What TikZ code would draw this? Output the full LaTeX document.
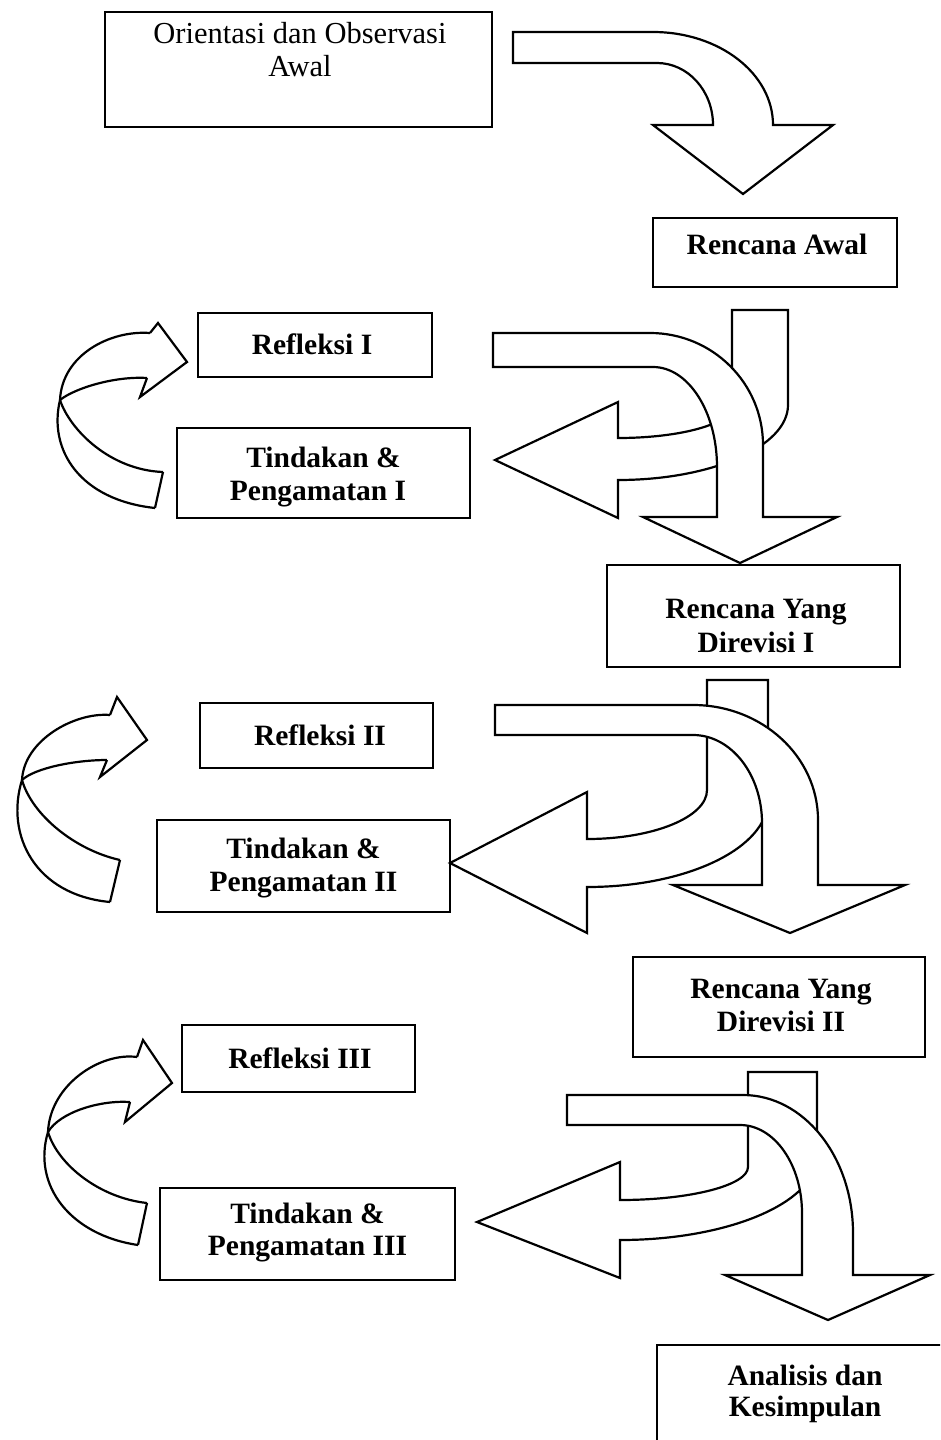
\documentclass[tikz,border=0pt]{standalone}
\usepackage{fontspec}
\setmainfont{Liberation Serif}
\begin{document}
\begin{tikzpicture}[x=1pt,y=-1pt,
  box/.style={draw=black,line width=2pt,fill=white,inner sep=0pt},
  shp/.style={draw=black,line width=2.2pt,fill=white,line join=miter},
  edge/.style={draw=black,line width=2.2pt},
  txt/.style={inner sep=0pt,anchor=base,font=\bfseries\fontsize{29.5}{33}\selectfont},
  txtr/.style={inner sep=0pt,anchor=base,font=\fontsize{30.5}{33}\selectfont}]
\useasboundingbox (0,0) rectangle (940,1440);
\clip (0,0) rectangle (940,1440);
\fill[white] (0,0) rectangle (940,1440);

% ---------- boxes ----------
\node[box,minimum width=387pt,minimum height=115pt] (b1) at (298.5,69.5) {};
\node[txtr] (b1a) at (300,43) {Orientasi dan Observasi};
\node[txtr] (b1b) at (300,76) {Awal};

\node[box,minimum width=244pt,minimum height=69pt] (rawal) at (775,252.5) {};
\node[txt] (rawalt) at (777,254) {Rencana Awal};

% ---------- section 1 arrow ----------
\draw[shp] (513,32) -- (653,32) .. controls (719.3,32) and (773,73.6) .. (773,125)
  -- (833,125) -- (743,194) -- (653,125) -- (713,125)
  .. controls (713,90.8) and (687.9,63) .. (657,63) -- (513,63) -- cycle;

% ---------- section 2 ----------
\node[box,minimum width=234pt,minimum height=64pt] (ref1) at (315,345) {};
\node[txt] (ref1t) at (312,354) {Refleksi I};
\node[box,minimum width=293pt,minimum height=90pt] (tin1) at (323.5,473) {};
\node[txt] (tin1a) at (323.5,467) {Tindakan \&};
\node[txt] (tin1b) at (318,500) {Pengamatan I};

\draw[shp] (732,310) -- (788,310) -- (788,405) .. controls (788,446.4) and (711.9,480) .. (618,480)
  -- (618,518) -- (495,460) -- (618,402) -- (618,438)
  .. controls (681,438) and (732,423.7) .. (732,406) -- cycle;
\draw[shp] (493,333) -- (650,333) .. controls (712.4,333) and (763,383.1) .. (763,445)
  -- (763,517) -- (837,517) -- (740,563) -- (643,517) -- (717,517) -- (717,467)
  .. controls (717,411.8) and (688.3,367) .. (653,367) -- (493,367) -- cycle;

% loop 1
\draw[edge] (150,333) .. controls (110,330) and (62,355) .. (60,400);
\draw[edge] (147,378) .. controls (115,376) and (75,388) .. (60,400);
\draw[edge] (60,400) .. controls (48,450) and (80,500) .. (155,508);
\draw[edge] (60,400) .. controls (70,430) and (110,470) .. (163,472);
\draw[edge,line join=miter] (163,472) -- (155,508);
\draw[edge,line join=miter] (147,378) -- (140,397) -- (187,362) -- (158,323) -- (150,333);

\node[box,minimum width=293pt,minimum height=102pt] (rev1) at (753.5,616) {};
\node[txt] (rev1a) at (756,618) {Rencana Yang};
\node[txt] (rev1b) at (756,652) {Direvisi I};

% ---------- section 3 ----------
\node[box,minimum width=233pt,minimum height=65pt] (ref2) at (316.5,735.5) {};
\node[txt] (ref2t) at (320,745) {Refleksi II};
\node[box,minimum width=293pt,minimum height=92pt] (tin2) at (303.5,866) {};
\node[txt] (tin2a) at (303.5,858) {Tindakan \&};
\node[txt] (tin2b) at (303.5,891) {Pengamatan II};

\draw[shp] (707,680) -- (768,680) -- (768,800) .. controls (768,848) and (687,887) .. (587,887)
  -- (587,933) -- (450,863) -- (587,792) -- (587,839)
  .. controls (653.3,839) and (707,817.1) .. (707,790) -- cycle;
\draw[shp] (495,705) -- (693,705) .. controls (762,705) and (818,756.5) .. (818,820)
  -- (818,885) -- (905,885) -- (790,933) -- (673,885) -- (762,885) -- (762,823)
  .. controls (762,774.4) and (731.1,735) .. (693,735) -- (495,735) -- cycle;

% loop 2
\draw[edge] (110,715) .. controls (75,712) and (24,740) .. (22,780);
\draw[edge] (107,760) .. controls (75,760) and (35,768) .. (22,780);
\draw[edge] (22,780) .. controls (5,835) and (35,895) .. (110,902);
\draw[edge] (22,780) .. controls (32,815) and (75,850) .. (120,860);
\draw[edge,line join=miter] (120,860) -- (110,902);
\draw[edge,line join=miter] (107,760) -- (100,777) -- (147,740) -- (117,697) -- (110,715);

\node[box,minimum width=292pt,minimum height=100pt] (rev2) at (779,1007) {};
\node[txt] (rev2a) at (781,998) {Rencana Yang};
\node[txt] (rev2b) at (781,1031) {Direvisi II};

% ---------- section 4 ----------
\node[box,minimum width=233pt,minimum height=67pt] (ref3) at (298.5,1058.5) {};
\node[txt] (ref3t) at (300,1068) {Refleksi III};
\node[box,minimum width=295pt,minimum height=92pt] (tin3) at (307.5,1234) {};
\node[txt] (tin3a) at (307.5,1223) {Tindakan \&};
\node[txt] (tin3b) at (307.5,1255) {Pengamatan III};

\draw[shp] (748,1072) -- (817,1072) -- (817,1156) .. controls (817,1202.4) and (728.8,1240) .. (620,1240)
  -- (620,1278) -- (477,1222) -- (620,1162) -- (620,1200)
  .. controls (690.7,1200) and (748,1185.2) .. (748,1167) -- cycle;
\draw[shp] (567,1095) -- (743,1095) .. controls (803.8,1095) and (853,1156.8) .. (853,1233)
  -- (853,1275) -- (930,1275) -- (828,1320) -- (725,1275) -- (802,1275) -- (802,1213)
  .. controls (802,1164.4) and (774.2,1125) .. (740,1125) -- (567,1125) -- cycle;

% loop 3
\draw[edge] (137,1057) .. controls (100,1052) and (50,1085) .. (48,1132);
\draw[edge] (130,1102) .. controls (100,1100) and (60,1112) .. (48,1132);
\draw[edge] (48,1132) .. controls (32,1185) and (70,1235) .. (138,1245);
\draw[edge] (48,1132) .. controls (58,1165) and (100,1198) .. (147,1203);
\draw[edge,line join=miter] (147,1203) -- (138,1245);
\draw[edge,line join=miter] (130,1102) -- (125,1122) -- (172,1083) -- (143,1040) -- (137,1057);

\node[box,minimum width=303pt,minimum height=125pt] (ana) at (808.5,1407.5) {};
\node[txt] (anaa) at (805,1385) {Analisis dan};
\node[txt] (anab) at (805,1416) {Kesimpulan};
\end{tikzpicture}
\end{document}
